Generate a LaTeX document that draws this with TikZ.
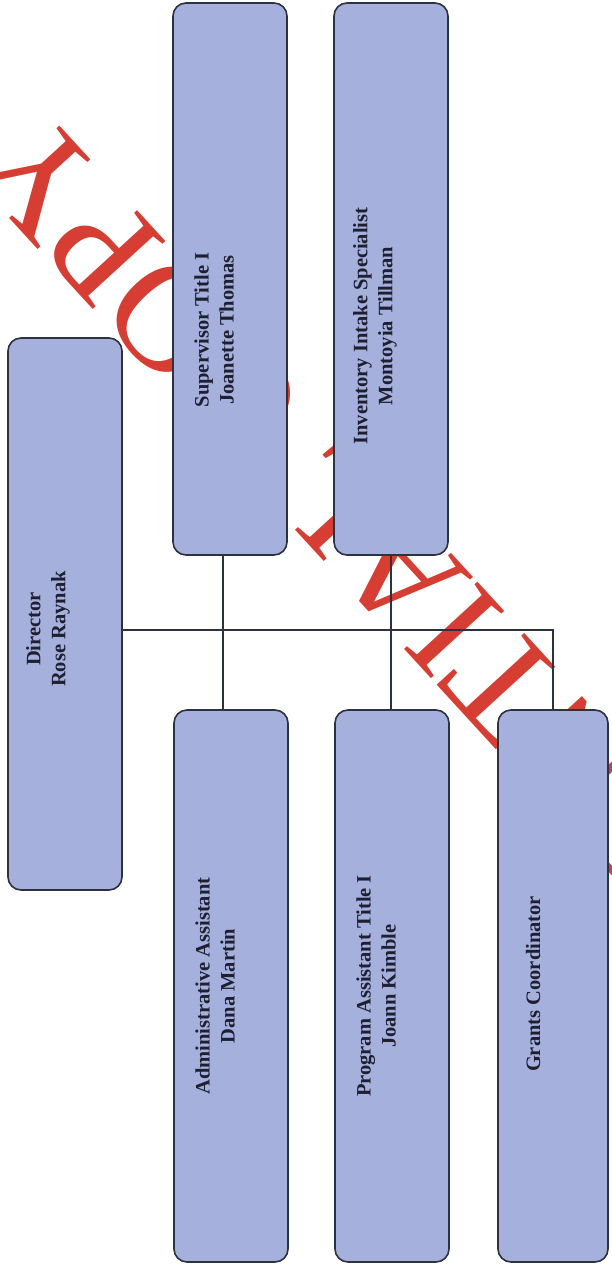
\documentclass[tikz,border=0pt]{standalone}
\usepackage{fontspec}
\setmainfont{Liberation Serif}
\usetikzlibrary{calc}
\definecolor{boxfill}{RGB}{166,176,220}
\definecolor{boxline}{RGB}{45,50,65}
\definecolor{wmred}{RGB}{214,62,52}
\definecolor{txt}{RGB}{30,32,50}
\begin{document}
\begin{tikzpicture}[x=1pt,y=-1pt,
  orgbox/.style={draw=boxline, line width=1.6pt, fill=boxfill, rounded corners=13pt,
    rectangle, inner sep=0pt, minimum width=114pt, minimum height=552pt},
  lbl/.style={rotate=90, align=center, text=txt, font=\fontsize{20.5}{25}\selectfont\bfseries, inner sep=0pt},
  conn/.style={draw=boxline, line width=1.3pt},
  wm/.style={text=wmred, font=\fontsize{152}{152}\selectfont, inner sep=0pt}]
\useasboundingbox (0,0) rectangle (611,1266);
\fill[white] (0,0) rectangle (611,1266);
\begin{scope}
\clip (0,0) rectangle (611,1266);
\node[wm, rotate=132.5, anchor=base east] (wm) at (38,102) {CONFIDENTIAL COPY};
\end{scope}
% boxes
\node[orgbox] (dir) at (65,614) {};
\node[orgbox] (sup) at (230,279) {};
\node[orgbox] (inv) at (391,279) {};
\node[orgbox] (adm) at (231,986) {};
\node[orgbox] (pro) at (392,986) {};
\node[orgbox, minimum width=110pt] (gra) at (553,986) {};
% connectors
\coordinate (hl) at (553,630);
\draw[conn] (dir.east |- hl) -- (hl) -- (gra.north);
\draw[conn] ([xshift=-7pt]sup.south) -- ([xshift=-7pt]sup.south |- adm.north);
\draw[conn] (inv.south) -- (inv.south |- pro.north);
% labels
\node[lbl] (ldir) at (48,629) {Director\\Rose Raynak};
\node[lbl] (lsup) at (214,330) {Supervisor Title I\\Joanette Thomas};
\node[lbl] (linv) at (375,326) {Inventory Intake Specialist\\Montoyia Tillman};
\node[lbl] (ladm) at (215,986) {Administrative Assistant\\Dana Martin};
\node[lbl] (lpro) at (376,986) {Program Assistant Title I\\Joann Kimble};
\node[lbl] (lgra) at (533,984) {Grants Coordinator};
\end{tikzpicture}
\end{document}
